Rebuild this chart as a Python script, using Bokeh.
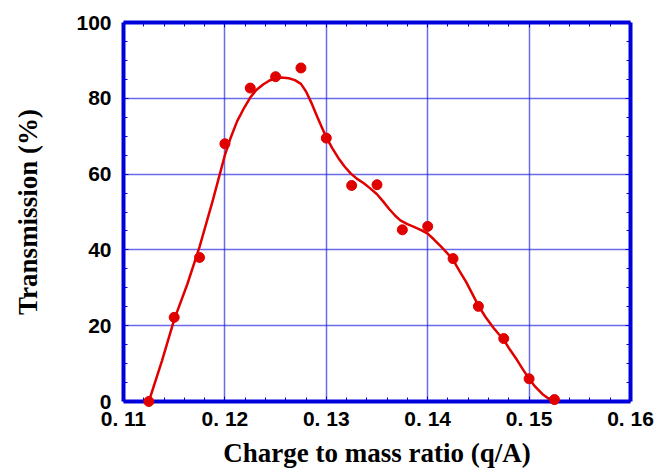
from bokeh.plotting import figure
from bokeh.models import Range1d, LinearAxis, FixedTicker, CustomJSTickFormatter
from bokeh.embed import file_html
from bokeh.resources import INLINE

# Measured transmission points
q_meas = [0.1125, 0.1150, 0.1175, 0.1200, 0.1225, 0.1250, 0.1275, 0.1300, 0.1325,
          0.1350, 0.1375, 0.1400, 0.1425, 0.1450, 0.1475, 0.1500, 0.1525]
trans_meas = [0.0, 22.2, 38.0, 68.0, 82.7, 85.7, 88.0, 69.5, 57.0,
              57.2, 45.3, 46.2, 37.7, 25.1, 16.6, 6.0, 0.5]

# Smooth fitted curve
q_fit = [0.1125, 0.1138, 0.1150, 0.1163, 0.1175, 0.1188, 0.1200, 0.1206, 0.1212,
         0.1219, 0.1225, 0.1231, 0.1238, 0.1244, 0.1250, 0.1256, 0.1263, 0.1269,
         0.1275, 0.1280, 0.1285, 0.1290, 0.1295, 0.1300, 0.1306, 0.1312, 0.1318,
         0.1324, 0.1330, 0.1337, 0.1343, 0.1350, 0.1356, 0.1362, 0.1368, 0.1373,
         0.1380, 0.1387, 0.1393, 0.1400, 0.1406, 0.1413, 0.1419, 0.1425, 0.1431,
         0.1438, 0.1444, 0.1450, 0.1457, 0.1465, 0.1470, 0.1475, 0.1481, 0.1488,
         0.1494, 0.1500, 0.1506, 0.1513, 0.1519, 0.1524]
trans_fit = [0.0, 10.8, 21.6, 31.0, 40.8, 53.0, 65.0, 69.8, 73.9,
             77.5, 80.2, 82.2, 83.7, 84.7, 85.3, 85.5, 85.3, 84.8,
             83.8, 81.8, 79.0, 75.8, 72.7, 69.7, 66.8, 64.2, 62.0,
             60.2, 58.8, 57.6, 56.3, 54.7, 52.8, 50.8, 49.0, 47.8,
             46.8, 46.0, 45.3, 44.3, 42.8, 40.9, 39.2, 37.4, 34.6,
             31.5, 28.4, 25.3, 22.3, 19.4, 17.8, 16.3, 13.7, 11.0,
             8.4, 6.0, 3.9, 2.0, 0.8, 0.3]

x_ticks = [0.11, 0.12, 0.13, 0.14, 0.15, 0.16]
x_minor = [0.11 + 0.002 * i for i in range(26)]
y_ticks = [0, 20, 40, 60, 80, 100]
y_minor = [5 * i for i in range(21)]

AX = "#0000dd"
RED = "#e00000"
TICK_FONT = "'Liberation Sans', Arial, sans-serif"
LABEL_FONT = "'Liberation Serif', 'Times New Roman', serif"

p = figure(width=660, height=476, x_range=Range1d(0.11, 0.16), y_range=Range1d(0, 100),
           output_backend="svg", toolbar_location=None,
           min_border_left=123, min_border_right=30, min_border_top=22, min_border_bottom=75,
           x_axis_label="Charge to mass ratio (q/A)", y_axis_label="Transmission (%)")
p.outline_line_color = None
p.background_fill_color = "white"
p.border_fill_color = "white"

p.xaxis.ticker = FixedTicker(ticks=x_ticks, minor_ticks=x_minor)
p.yaxis.ticker = FixedTicker(ticks=y_ticks, minor_ticks=y_minor)
p.xaxis.formatter = CustomJSTickFormatter(code="return tick.toFixed(2).replace('.', '. ');")

p.add_layout(LinearAxis(ticker=FixedTicker(ticks=x_ticks, minor_ticks=x_minor),
                        formatter=CustomJSTickFormatter(code="return '';")), "above")
p.add_layout(LinearAxis(ticker=FixedTicker(ticks=y_ticks, minor_ticks=y_minor),
                        formatter=CustomJSTickFormatter(code="return '';")), "right")

for ax in p.axis:
    ax.axis_line_width = 4
    ax.axis_line_color = AX
    ax.major_tick_in = 5
    ax.major_tick_out = 0
    ax.minor_tick_in = 4
    ax.minor_tick_out = 0
    ax.major_tick_line_color = AX
    ax.minor_tick_line_color = AX
    ax.major_tick_line_width = 1
    ax.minor_tick_line_width = 1
    ax.major_label_text_font = TICK_FONT
    ax.major_label_text_font_style = "bold"
    ax.major_label_text_font_size = "21px"
    ax.major_label_text_color = "black"
    ax.axis_label_text_font = LABEL_FONT
    ax.axis_label_text_font_style = "bold"
    ax.axis_label_text_font_size = "27px"
    ax.axis_label_text_color = "black"

p.xaxis[0].major_label_standoff = 9
p.yaxis[0].major_label_standoff = 12
p.xaxis[0].axis_label_standoff = 14
p.yaxis[0].axis_label_standoff = 30

p.xgrid.ticker = FixedTicker(ticks=x_ticks)
p.ygrid.ticker = FixedTicker(ticks=y_ticks)
for g in (p.xgrid, p.ygrid):
    g.grid_line_color = "#1a1ae0"
    g.grid_line_alpha = 0.65
    g.grid_line_width = 1.5

p.line(q_fit, trans_fit, line_color=RED, line_width=2.5, line_join="round")
r = p.scatter(q_meas, trans_meas, size=10, fill_color=RED, line_color=RED)
r.level = "overlay"

open("out.html", "w").write(file_html(p, INLINE))
